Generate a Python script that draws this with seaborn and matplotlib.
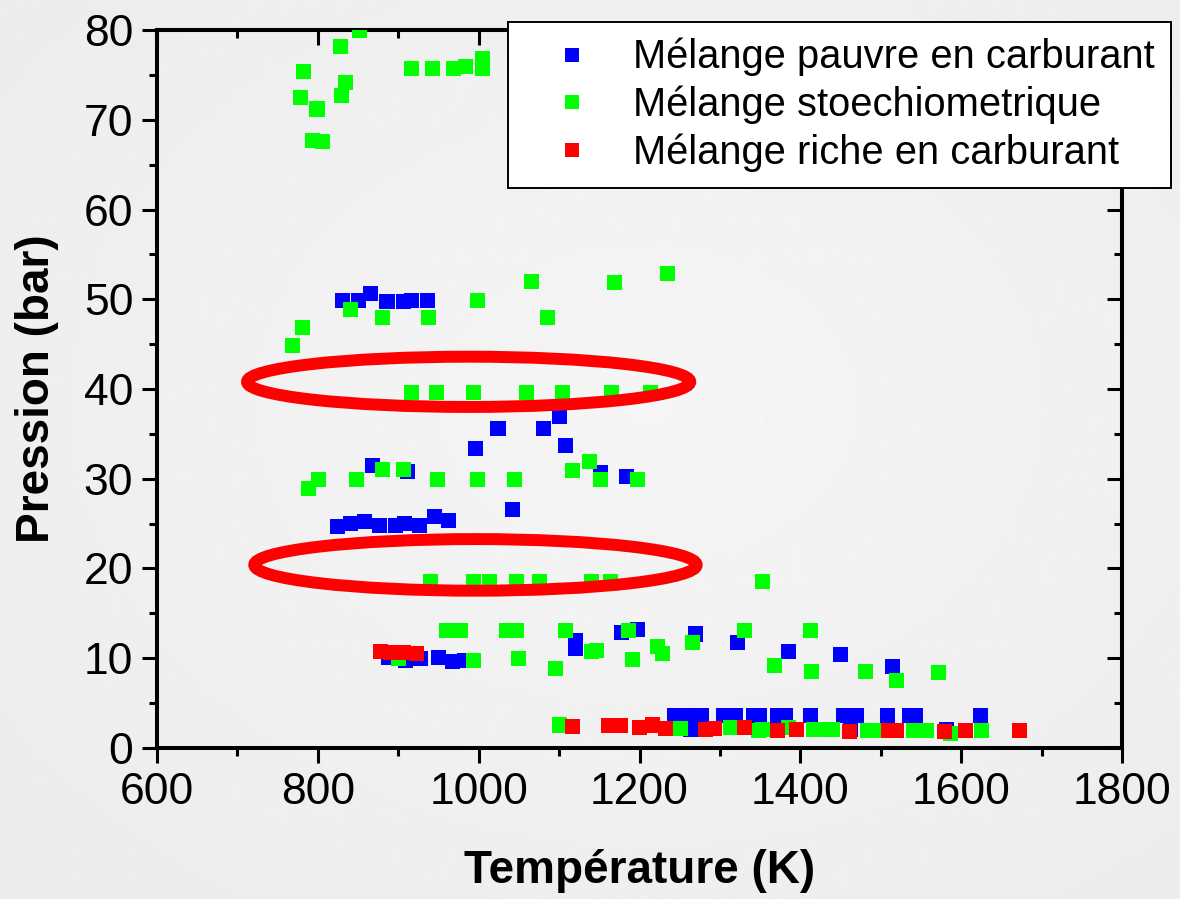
import numpy as np
import pandas as pd
import matplotlib
matplotlib.use("Agg")
import matplotlib.pyplot as plt
from matplotlib.patches import Ellipse
from matplotlib.lines import Line2D
from matplotlib.ticker import MultipleLocator
import seaborn as sns

# ---- data: temperature (K) and pressure (bar) per mixture ----
lean_T = [831, 851, 866, 886, 906, 917, 936,
          1100, 1081, 1024, 996, 1108, 1152, 1184, 1042, 868, 912,
          825, 841, 858, 877, 897, 908, 926, 945, 962,
          1120, 1120, 1178, 1197, 1269, 1322, 1385, 1450, 1514,
          888, 909, 928, 950, 967, 982,
          1244, 1262, 1277, 1304, 1319, 1342, 1349, 1372, 1381, 1412,
          1453, 1470, 1508, 1536, 1543, 1624,
          1263, 1462, 1581]
lean_P = [49.9, 49.9, 50.6, 49.7, 49.7, 49.9, 49.9,
          36.9, 35.6, 35.6, 33.4, 33.7, 30.7, 30.2, 26.6, 31.5, 30.8,
          24.7, 25.0, 25.2, 24.8, 24.8, 25.0, 24.8, 25.8, 25.3,
          12.0, 11.1, 12.9, 13.2, 12.7, 11.7, 10.7, 10.4, 9.1,
          10.1, 9.8, 10.0, 10.1, 9.6, 9.7,
          3.65, 3.65, 3.65, 3.65, 3.65, 3.65, 3.65, 3.65, 3.65, 3.65,
          3.65, 3.65, 3.65, 3.65, 3.65, 3.65,
          2.1, 2.1, 2.1]

stoich_T = [828, 852, 782, 834, 778, 830, 799, 793, 806, 917, 942, 969, 984, 1005, 1005,
            999, 1066, 1169, 1235, 841, 881, 937, 1086, 781, 769,
            917, 947, 994, 1060, 1104, 1165, 1214,
            1138, 1117, 1152, 1198, 1045, 881, 907, 801, 789, 848, 949, 999,
            940, 993, 1014, 1047, 1075, 1140, 1164, 1353,
            960, 977, 1035, 1047, 1108, 1186, 1331, 1412,
            1140, 1146, 1191, 1222, 1229, 1266, 1368, 1049, 1096, 1414, 1481, 1520, 1572, 900, 993,
            1100, 1251, 1313, 1348, 1353, 1385, 1416, 1429, 1440, 1483, 1496, 1540, 1557, 1586, 1625]
stoich_P = [78.2, 80.0, 75.4, 74.2, 72.5, 72.7, 71.2, 67.7, 67.6, 75.7, 75.7, 75.7, 75.9, 76.8, 75.7,
            49.9, 52.0, 51.9, 52.9, 48.9, 48.0, 48.0, 48.0, 46.9, 44.9,
            39.6, 39.6, 39.6, 39.6, 39.6, 39.6, 39.6,
            31.9, 30.9, 29.9, 29.9, 29.9, 31.0, 31.0, 29.9, 28.9, 29.9, 29.9, 29.9,
            18.6, 18.6, 18.6, 18.6, 18.6, 18.6, 18.6, 18.6,
            13.1, 13.1, 13.1, 13.1, 13.1, 13.1, 13.1, 13.1,
            10.8, 10.9, 9.9, 11.3, 10.5, 11.8, 9.2, 10.0, 8.9, 8.5, 8.5, 7.5, 8.4, 10.0, 9.7,
            2.56, 2.15, 2.3, 2.0, 2.1, 2.3, 2.1, 2.1, 2.1, 2.0, 2.0, 2.0, 2.0, 1.65, 1.9]

rich_T = [878, 890, 906, 923,
          1117, 1162, 1176, 1200, 1216, 1232, 1282, 1293, 1331,
          1372, 1395, 1461, 1510, 1520, 1579, 1605, 1672]
rich_P = [10.7, 10.6, 10.6, 10.5,
          2.4, 2.5, 2.45, 2.3, 2.56, 2.2, 2.1, 2.2, 2.3,
          1.95, 2.03, 1.86, 2.0, 2.0, 1.8, 2.0, 2.0]

series_names = ["Mélange pauvre en carburant",
                "Mélange stoechiometrique",
                "Mélange riche en carburant"]
series_colors = ["#0000ff", "#00ff00", "#ff0000"]

df = pd.concat([
    pd.DataFrame({"T": lean_T, "P": lean_P, "mix": series_names[0]}),
    pd.DataFrame({"T": stoich_T, "P": stoich_P, "mix": series_names[1]}),
    pd.DataFrame({"T": rich_T, "P": rich_P, "mix": series_names[2]}),
], ignore_index=True)

sns.set_style("ticks")
plt.rcParams["font.family"] = ["Liberation Sans", "DejaVu Sans"]
plt.rcParams.update({
    "text.color": "black",
    "axes.labelcolor": "black",
    "axes.edgecolor": "black",
    "xtick.color": "black",
    "ytick.color": "black",
})

fig = plt.figure(figsize=(11.8, 8.99), dpi=100)

# soft grey backdrop
bg = fig.add_axes([0, 0, 1, 1], zorder=-10)
yy, xx = np.mgrid[0:1:300j, 0:1:400j]
r = np.sqrt(((xx - 0.55) / 0.9) ** 2 + ((yy - 0.45) / 0.9) ** 2)
shade = 0.962 - 0.045 * np.clip(r, 0, 1)
bg.imshow(shade, cmap="gray", vmin=0, vmax=1, aspect="auto", extent=[0, 1, 0, 1])
bg.axis("off")

ax = fig.add_axes([0.133, 0.168, 0.818, 0.7986])
ax.set_facecolor("none")

sns.scatterplot(data=df, x="T", y="P", hue="mix", hue_order=series_names,
                palette=series_colors, marker="s", s=117, linewidth=0,
                legend=False, ax=ax, zorder=3)

ax.set_xlim(600, 1800)
ax.set_ylim(0, 80)
ax.xaxis.set_major_locator(MultipleLocator(200))
ax.xaxis.set_minor_locator(MultipleLocator(100))
ax.yaxis.set_major_locator(MultipleLocator(10))
ax.yaxis.set_minor_locator(MultipleLocator(5))

for sp in ax.spines.values():
    sp.set_visible(True)
    sp.set_linewidth(2.9)
    sp.set_color("black")

ax.tick_params(which="major", direction="out", length=11, width=2.2,
               labelsize=32, pad=6, colors="black")
ax.tick_params(which="minor", direction="out", length=6, width=2.2, colors="black")

# inward ticks on the top and right edges
top = ax.secondary_xaxis("top")
top.xaxis.set_major_locator(MultipleLocator(200))
top.xaxis.set_minor_locator(MultipleLocator(100))
top.tick_params(which="major", direction="in", length=11, width=2.2, labeltop=False, colors="black")
top.tick_params(which="minor", direction="in", length=6, width=2.2, colors="black")
top.spines["top"].set_linewidth(2.9)
right = ax.secondary_yaxis("right")
right.yaxis.set_major_locator(MultipleLocator(10))
right.yaxis.set_minor_locator(MultipleLocator(5))
right.tick_params(which="major", direction="in", length=11, width=2.2, labelright=False, colors="black")
right.tick_params(which="minor", direction="in", length=6, width=2.2, colors="black")
right.spines["right"].set_linewidth(2.9)

ax.set_xlabel("Température (K)", fontsize=33, fontweight="bold", labelpad=26, color="black")
ax.set_ylabel("Pression (bar)", fontsize=33, fontweight="bold", labelpad=18, color="black")

# highlighted pressure bands
for cx, cy, w, h in [(987.5, 40.8, 551, 5.6), (996, 20.4, 550, 5.75)]:
    ax.add_patch(Ellipse((cx, cy), w, h, fill=False, edgecolor="#ff0000",
                         linewidth=8.6, zorder=4))

handles = [Line2D([], [], linestyle="none", marker="s", markersize=9.5,
                  markerfacecolor=c, markeredgewidth=0) for c in series_colors]
leg = fig.legend(handles, series_names, loc="upper right",
                 bbox_to_anchor=(0.992, 0.9755), bbox_transform=fig.transFigure,
                 fontsize=28.7, frameon=True, fancybox=False, framealpha=1,
                 edgecolor="black", borderpad=0.4, handletextpad=0.33,
                 labelspacing=0.23, handlelength=2.4, borderaxespad=0)
leg.get_frame().set_linewidth(1.4)
leg.set_zorder(10)

fig.savefig("out.png", dpi=100)
